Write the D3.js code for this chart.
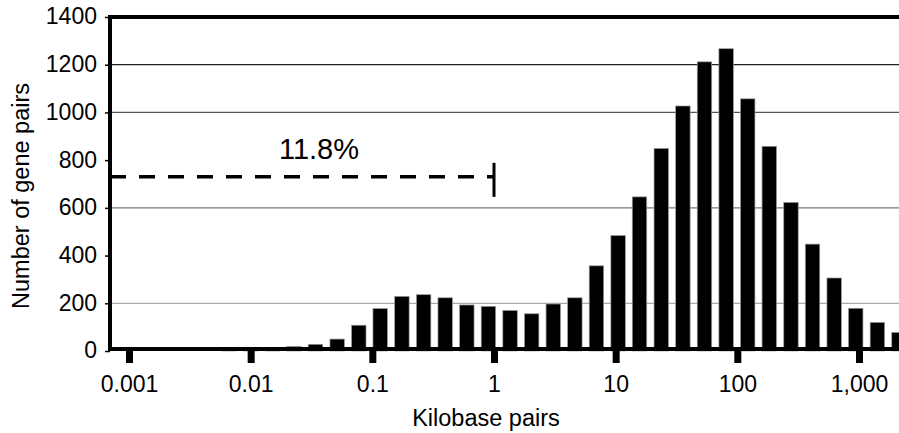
<!DOCTYPE html>
<html>
<head>
<meta charset="utf-8">
<script src="https://cdn.jsdelivr.net/npm/d3@7"></script>
<style>
  body { margin: 0; background: #fff; }
  svg { display: block; font-family: "Liberation Sans", Arial, sans-serif; }
</style>
</head>
<body>
<div id="viz"></div>
<script>
// bin centres (kilobase pairs, log-spaced bins) and counts
var binCenters = [0.00665, 0.0100, 0.0151, 0.0227, 0.0341, 0.0514, 0.0774, 0.116,
  0.175, 0.264, 0.397, 0.598, 0.900, 1.355, 2.04, 3.07,
  4.62, 6.95, 10.47, 15.7, 23.7, 35.7, 53.7, 80.9,
  121.7, 183, 276, 415, 625, 940, 1416, 2130];
var counts = [13, 15, 15, 19, 28, 50, 108, 178,
  229, 236, 223, 193, 187, 170, 156, 197,
  223, 357, 484, 646, 849, 1027, 1212, 1267,
  1057, 858, 623, 448, 306, 179, 120, 78];

var xTicks = [0.001, 0.01, 0.1, 1, 10, 100, 1000];
var xTickLabels = ["0.001", "0.01", "0.1", "1", "10", "100", "1,000"];
var yTicks = [0, 200, 400, 600, 800, 1000, 1200, 1400];
var gridValues = [1200, 1000, 600, 200];

// dashed marker: share of pairs below 1 kb
var markLevel = 730;
var markEnd = 1;
var markLabel = "11.8%";

function draw() {
  var width = 899, height = 433;
  var plotLeft = 110, plotRight = 899, plotTop = 17, plotBottom = 351;

  var svg = d3.select("#viz").append("svg")
    .attr("width", width)
    .attr("height", height);

  // log scale: 0.001 at 129px, 1000 at 859px
  var x = d3.scaleLog().domain([0.001, 1000]).range([129, 859]);
  var y = d3.scaleLinear().domain([0, 1400]).range([plotBottom, plotTop]);

  // grid lines
  var gridColor = { 1200: "#222", 1000: "#555", 600: "#777", 200: "#aaa" };
  svg.append("g").selectAll("line")
    .data(gridValues)
    .enter().append("line")
    .attr("x1", plotLeft).attr("x2", plotRight)
    .attr("y1", function (d) { return y(d); })
    .attr("y2", function (d) { return y(d); })
    .attr("stroke", function (d) { return gridColor[d]; })
    .attr("stroke-width", 1.3);

  // bars
  var pitch = x(binCenters[1]) - x(binCenters[0]);
  var barW = pitch * 0.67;
  svg.append("g").selectAll("rect")
    .data(counts)
    .enter().append("rect")
    .attr("x", function (d, i) { return x(binCenters[i]) - barW / 2; })
    .attr("y", function (d) { return y(d); })
    .attr("width", barW)
    .attr("height", function (d) { return y(0) - y(d); })
    .attr("fill", "#000")
    .attr("stroke", "#999")
    .attr("stroke-width", 0.7);

  // y axis
  var yAxis = svg.append("g")
    .attr("transform", "translate(" + plotLeft + ",0)")
    .call(d3.axisLeft(y).tickValues(yTicks).tickSize(5).tickPadding(8).tickFormat(d3.format("d")));
  yAxis.select(".domain").remove();
  yAxis.selectAll("line").attr("stroke", "#000").attr("stroke-width", 1.5);
  yAxis.selectAll("text")
    .attr("fill", "#000")
    .style("font-size", "23px")
    .attr("dy", "0.3em");

  // x axis
  var xAxis = svg.append("g")
    .attr("transform", "translate(0," + 349 + ")")
    .call(d3.axisBottom(x).tickValues(xTicks).tickSize(14)
      .tickFormat(function (d, i) { return xTickLabels[i]; }));
  xAxis.select(".domain").remove();
  xAxis.selectAll("line").attr("stroke", "#000").attr("stroke-width", 7);
  xAxis.selectAll("text")
    .attr("fill", "#000")
    .style("font-size", "23px")
    .attr("dy", null)
    .attr("y", 42.5);

  // frame lines
  svg.append("line")
    .attr("x1", plotLeft).attr("x2", plotLeft)
    .attr("y1", plotTop - 2).attr("y2", plotBottom)
    .attr("stroke", "#000").attr("stroke-width", 4);
  svg.append("line")
    .attr("x1", plotLeft - 2).attr("x2", plotRight)
    .attr("y1", 349).attr("y2", 349)
    .attr("stroke", "#000").attr("stroke-width", 4);
  svg.append("line")
    .attr("x1", plotLeft - 2).attr("x2", plotRight)
    .attr("y1", plotTop).attr("y2", plotTop)
    .attr("stroke", "#000").attr("stroke-width", 4);

  // dashed marker
  svg.append("line")
    .attr("x1", plotLeft).attr("x2", x(markEnd))
    .attr("y1", y(markLevel)).attr("y2", y(markLevel))
    .attr("stroke", "#000").attr("stroke-width", 3.5)
    .attr("stroke-dasharray", "16,13");
  svg.append("line")
    .attr("x1", x(markEnd)).attr("x2", x(markEnd))
    .attr("y1", y(markLevel) - 14).attr("y2", y(markLevel) + 20)
    .attr("stroke", "#000").attr("stroke-width", 3);
  svg.append("text")
    .attr("x", 319).attr("y", 159)
    .attr("text-anchor", "middle")
    .style("font-size", "29px")
    .text(markLabel);

  // axis titles
  svg.append("text")
    .attr("x", 486).attr("y", 426)
    .attr("text-anchor", "middle")
    .style("font-size", "23.5px")
    .text("Kilobase pairs");
  svg.append("text")
    .attr("transform", "translate(29,196) rotate(-90)")
    .attr("text-anchor", "middle")
    .style("font-size", "23.5px")
    .text("Number of gene pairs");
}

draw();
</script>
</body>
</html>
